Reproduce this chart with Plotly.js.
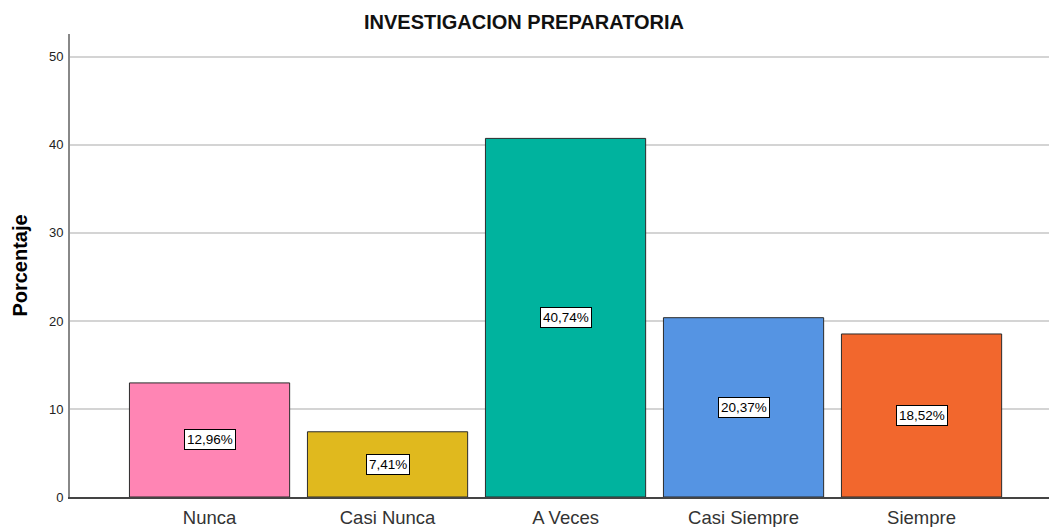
<!DOCTYPE html>
<html>
<head>
<meta charset="utf-8">
<script src="https://cdn.plot.ly/plotly-3.0.1.min.js"></script>
<style>html,body{margin:0;padding:0;background:#fff;}#chart{width:1049px;height:527px;}</style>
</head>
<body>
<div id="chart"></div>
<script>
const categories = ["Nunca", "Casi Nunca", "A Veces", "Casi Siempre", "Siempre"];
const values = [12.96, 7.41, 40.74, 20.37, 18.52];
const labels = ["12,96%", "7,41%", "40,74%", "20,37%", "18,52%"];
const colors = ["#FF85B4", "#E0B91E", "#00B39E", "#5594E3", "#F2672D"];
const yTicks = [0, 10, 20, 30, 40, 50];

const idx = categories.map((c, i) => i);

const trace = {
  type: "bar",
  x: idx,
  y: values,
  width: 0.9,
  marker: { color: colors, line: { color: "#2b2b2b", width: 1 } },
  hoverinfo: "skip"
};

const annotations = idx.map(i => ({
  x: i, y: values[i] / 2, xref: "x", yref: "y",
  text: labels[i], showarrow: false,
  font: { family: "Liberation Sans, Arial, sans-serif", size: 13.5, color: "#000" },
  bgcolor: "#ffffff", bordercolor: "#000000", borderwidth: 1, borderpad: 2
}));

const layout = {
  width: 1049, height: 527,
  margin: { l: 70, r: 0, t: 34, b: 30 },
  paper_bgcolor: "#ffffff", plot_bgcolor: "#ffffff",
  showlegend: false,
  title: {
    text: "<b>INVESTIGACION PREPARATORIA</b>",
    font: { family: "Liberation Sans, Arial, sans-serif", size: 20, color: "#111" },
    x: 0.4995, xanchor: "center", y: 0.959, yanchor: "middle"
  },
  xaxis: {
    range: [-0.784, 4.716],
    tickvals: idx, ticktext: categories,
    showgrid: false, zeroline: false,
    showline: true, linecolor: "#444", linewidth: 1.5,
    ticks: "", ticklen: 0,
    ticklabelstandoff: 3,
    tickfont: { family: "Liberation Sans, Arial, sans-serif", size: 18.5, color: "#333" }
  },
  yaxis: {
    range: [0, 52.6],
    tickvals: yTicks,
    showgrid: true, gridcolor: "#d4d4d4", gridwidth: 1.5,
    zeroline: false,
    showline: true, linecolor: "#888", linewidth: 2,
    ticks: "", ticklen: 0,
    ticklabelstandoff: 2,
    tickfont: { family: "Liberation Sans, Arial, sans-serif", size: 13, color: "#222" },
    title: { text: "<b>Porcentaje</b>", standoff: 16,
      font: { family: "Liberation Sans, Arial, sans-serif", size: 20, color: "#000" } }
  },
  annotations: annotations
};

Plotly.newPlot("chart", [trace], layout, { displayModeBar: false, staticPlot: true });
</script>
</body>
</html>
